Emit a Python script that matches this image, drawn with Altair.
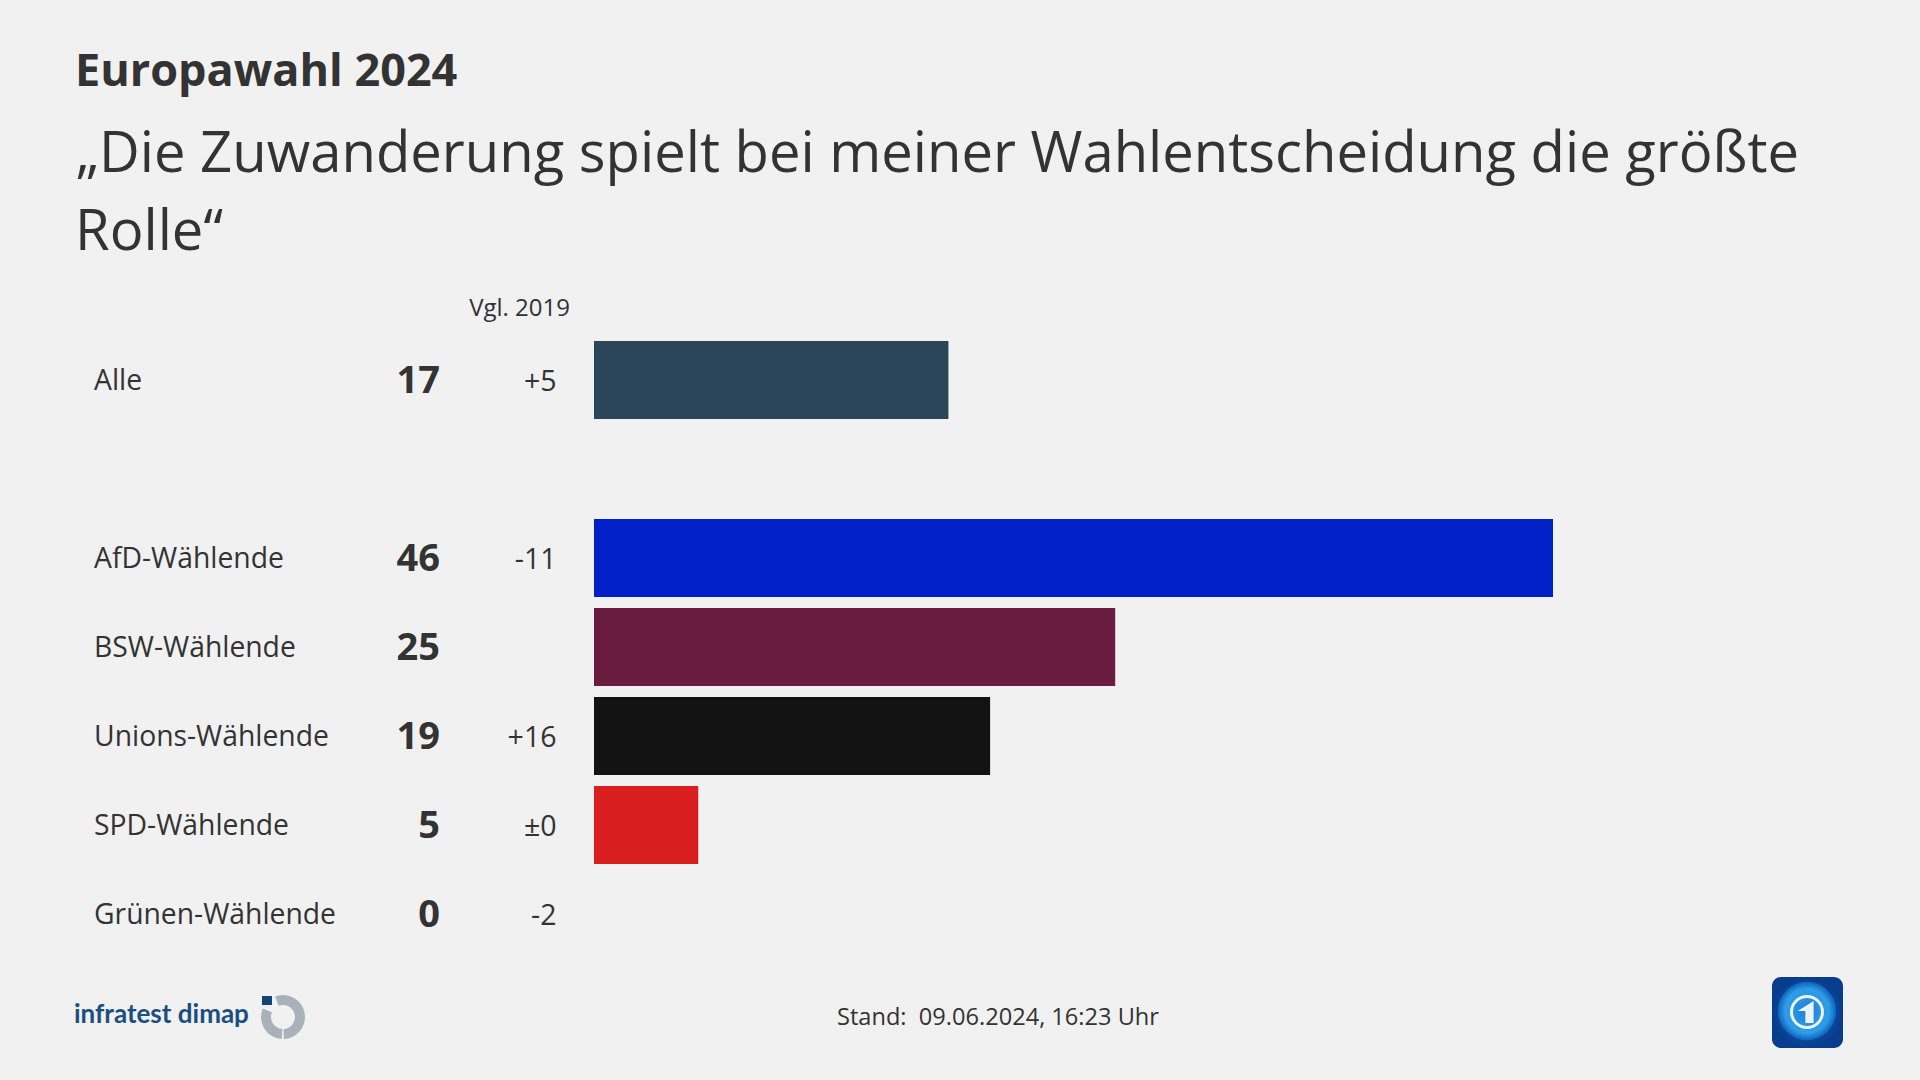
import altair as alt
import pandas as pd

rows = ["Alle", " ", "AfD-Wählende", "BSW-Wählende", "Unions-Wählende", "SPD-Wählende", "Grünen-Wählende"]
values = [17, None, 46, 25, 19, 5, 0]
deltas = ["+5", "", "-11", "", "+16", "±0", "-2"]
bar_colors = ["#2b4559", "#f1f1f1", "#0021c7", "#6a1b40", "#121212", "#d81e1e", "#f1f1f1"]
value_labels = ["17", "", "46", "25", "19", "5", "0"]

kicker = "Europawahl 2024"
title_lines = ["„Die Zuwanderung spielt bei meiner Wahlentscheidung die größte", "Rolle“"]
compare_head = "Vgl. 2019"
stand = "Stand:\u00a0 09.06.2024, 16:23 Uhr"
brand = "infratest dimap"

FONT = "Open Sans"
INK = "#333333"
BG = "#f1f1f1"
W, H = 1904, 1060
OFF = 8


def px(v):
    return alt.value(v - OFF)


df = pd.DataFrame({"row": rows, "value": values, "delta": deltas, "color": bar_colors, "vlabel": value_labels})
df_bars = df[df["value"].notna()]

y = alt.Y("row:N", sort=rows, axis=None,
          scale=alt.Scale(domain=rows, range=[335.5 - OFF, 958.5 - OFF], paddingInner=0.124, paddingOuter=0.062))
x = alt.X("value:Q", axis=None, scale=alt.Scale(domain=[0, 46], range=[594 - OFF, 1553 - OFF], nice=False, zero=True))

bars = alt.Chart(df_bars).mark_bar().encode(x=x, x2=alt.datum(0), y=y,
                                            color=alt.Color("color:N", scale=None))

base = alt.Chart(df)
labels = base.mark_text(font=FONT, fontSize=28.3, dy=2, align="left", baseline="middle", color=INK).encode(
    x=px(94), y=y, text="row:N")
nums = base.mark_text(font=FONT, fontSize=38, dy=2, fontWeight="bold", align="right", baseline="middle", color=INK).encode(
    x=px(440), y=y, text="vlabel:N")
dels = base.mark_text(font=FONT, fontSize=28.5, dy=1.5, align="right", baseline="middle", color=INK).encode(
    x=px(556.5), y=y, text="delta:N")


def line(text, x0, y0, size, weight="normal", color=INK, align="left", font=FONT):
    return alt.Chart(pd.DataFrame({"t": [text]})).mark_text(
        font=font, fontSize=size, fontWeight=weight, color=color, align=align, baseline="middle"
    ).encode(x=px(x0), y=px(y0), text="t:N")


texts = [
    line(kicker, 75, 72, 45, "bold"),
    line(title_lines[0], 76, 154.5, 56.2),
    line(title_lines[1], 75, 232.5, 56.2),
    line(compare_head, 570, 308.5, 24, align="right"),
    line(stand, 837, 1018, 23.6),
    line(brand, 74, 1015, 26, "bold", "#1a4f80", font="Lato"),
]


def arc(cx, cy, r0, r1, t0, t1, color):
    return alt.Chart(pd.DataFrame({"a": [0]})).mark_arc(
        radius=r1, radius2=r0, theta=t0, theta2=t1, color=color
    ).encode(x=px(cx), y=px(cy))


def box(x0, x1, y0, y1, **kw):
    return alt.Chart(pd.DataFrame({"a": [0]})).mark_rect(**kw).encode(
        x=px(x0), x2=px(x1), y=px(y0), y2=px(y1))


def dot(cx, cy, size, **kw):
    return alt.Chart(pd.DataFrame({"a": [0]})).mark_point(filled=True, shape="circle", size=size, **kw).encode(
        x=px(cx), y=px(cy))


logo_dimap = [
    arc(283, 1017, 12, 22, 5.91, 6.2832, "#a9b2ba"),
    arc(283, 1017, 12, 22, 0, 3.1, "#a9b2ba"),
    arc(283, 1017, 12, 22, 3.2, 5.11, "#a9b2ba"),
    box(262, 272, 996, 1005, color="#14437a"),
]

sky = alt.RadialGradient(gradient="radial", stops=[
    alt.GradientStop(color="#0f5fb8", offset=0),
    alt.GradientStop(color="#0b4fa6", offset=0.6),
    alt.GradientStop(color="#083c8c", offset=1)])
globe = alt.RadialGradient(gradient="radial", stops=[
    alt.GradientStop(color="#1f7fd6", offset=0),
    alt.GradientStop(color="#2f9ee8", offset=0.75),
    alt.GradientStop(color="#0f62bc", offset=1)])

logo_ard = [
    box(1772, 1843, 977, 1048, fill=sky, cornerRadius=9),
    dot(1807, 1011, 3400, fill=globe, opacity=1),
    arc(1807, 1012, 14, 17, 0, 6.2832, "#eaf3fb"),
    alt.Chart(pd.DataFrame({"a": [0]})).mark_point(
        filled=True, size=484, fill="#eaf3fb", opacity=1,
        shape="M -0.85 -0.1 L 0.6 -1 L 0.6 1 L -0.15 1 L -0.15 -0.1 Z").encode(x=px(1807), y=px(1012)),
]

chart = alt.layer(bars, labels, nums, dels, *texts, *logo_dimap, *logo_ard).properties(
    width=W, height=H, background=BG, padding=0,
    autosize=alt.AutoSizeParams(type="none"),
).configure_view(stroke=None).resolve_scale(x="shared", y="shared")

chart.save("out.html", embed_options={"renderer": "svg", "actions": False,
                                      "defaultStyle": "body{background:#f1f1f1}"})
